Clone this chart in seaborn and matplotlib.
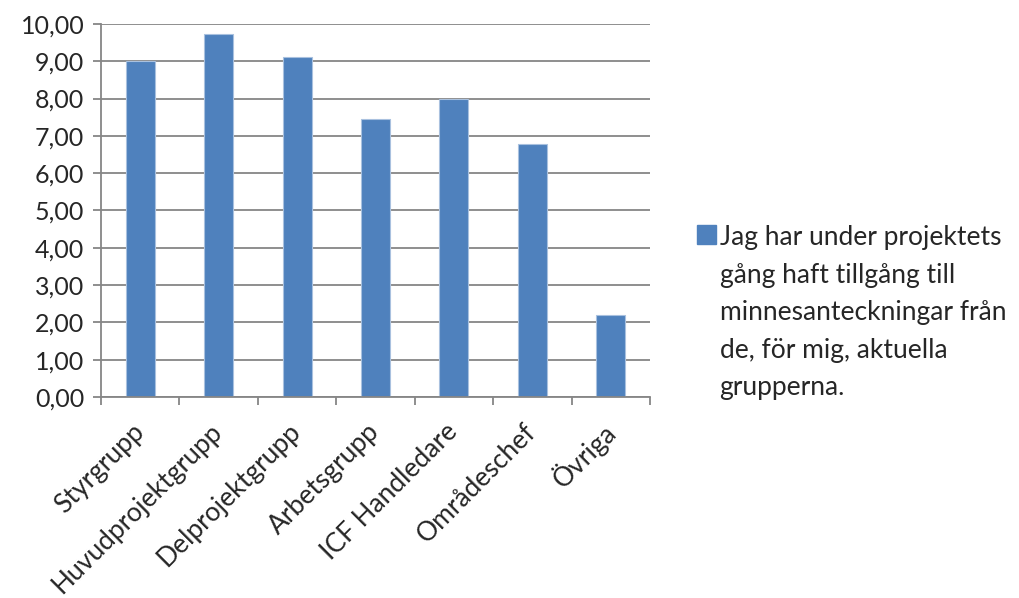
import matplotlib
matplotlib.use("Agg")
import matplotlib.pyplot as plt
import seaborn as sns
import numpy as np
from matplotlib.patches import Patch
from matplotlib.ticker import FixedLocator

categories = ["Styrgrupp", "Huvudprojektgrupp", "Delprojektgrupp", "Arbetsgrupp",
              "ICF Handledare", "Områdeschef", "Övriga"]
values = [9.00, 9.74, 9.11, 7.45, 8.00, 6.78, 2.20]
y_ticks = [0, 1, 2, 3, 4, 5, 6, 7, 8, 9, 10]
y_tick_labels = ["0,00", "1,00", "2,00", "3,00", "4,00", "5,00",
                 "6,00", "7,00", "8,00", "9,00", "10,00"]
legend_label = ("Jag har under projektets\ngång haft tillgång till\n"
                "minnesanteckningar från\nde, för mig, aktuella\ngrupperna.")

sns.set_theme(style="white")
plt.rcParams["font.family"] = ["Lato", "DejaVu Sans"]

bar_color = "#4F81BD"
grid_color = "#868686"
text_color = "#262626"

fig = plt.figure(figsize=(10.19, 5.98), dpi=100)
ax = fig.add_axes([0.099, 0.336, 0.539, 0.624])

sns.barplot(x=categories, y=values, color=bar_color, width=0.37,
            edgecolor="#A9C1DF", linewidth=0.8, saturation=1, ax=ax)

ax.set_ylim(0, 10)
ax.set_xlim(-0.5, len(categories) - 0.5)
ax.set_yticks(y_ticks)
ax.set_yticklabels(y_tick_labels)
ax.yaxis.grid(True, color=grid_color, linewidth=1.3)
ax.set_axisbelow(True)

for side in ["top", "right"]:
    ax.spines[side].set_visible(False)
for side in ["left", "bottom"]:
    ax.spines[side].set_color(grid_color)
    ax.spines[side].set_linewidth(1.3)

ax.tick_params(axis="y", which="major", direction="out", length=6, width=1.3,
               color=grid_color, labelsize=18, labelcolor=text_color, pad=6, left=True)
ax.xaxis.set_minor_locator(FixedLocator(np.arange(-0.5, len(categories), 1.0)))
ax.tick_params(axis="x", which="minor", direction="out", length=6, width=1.3,
               color=grid_color, bottom=True)
ax.tick_params(axis="x", which="major", length=0, labelsize=19,
               labelcolor=text_color, pad=22)
for lbl in ax.get_xticklabels():
    lbl.set_rotation(45)
    lbl.set_ha("right")
    lbl.set_va("center")
    lbl.set_rotation_mode("anchor")

ax.set_xlabel("")
ax.set_ylabel("")

handle = Patch(facecolor=bar_color, edgecolor=bar_color)
leg = fig.legend([handle], [legend_label], loc="upper left",
                 bbox_to_anchor=(0.666, 0.654), frameon=False, fontsize=19,
                 handlelength=0.7, handleheight=0.7, handletextpad=0.15,
                 borderpad=0.2, labelcolor=text_color)
for t in leg.get_texts():
    t.set_linespacing(1.62)
# put the legend swatch beside the first line of the label
for col in leg._legend_handle_box.get_children():
    for row in col.get_children():
        row.align = "top"

fig.savefig("out.png", dpi=100)
